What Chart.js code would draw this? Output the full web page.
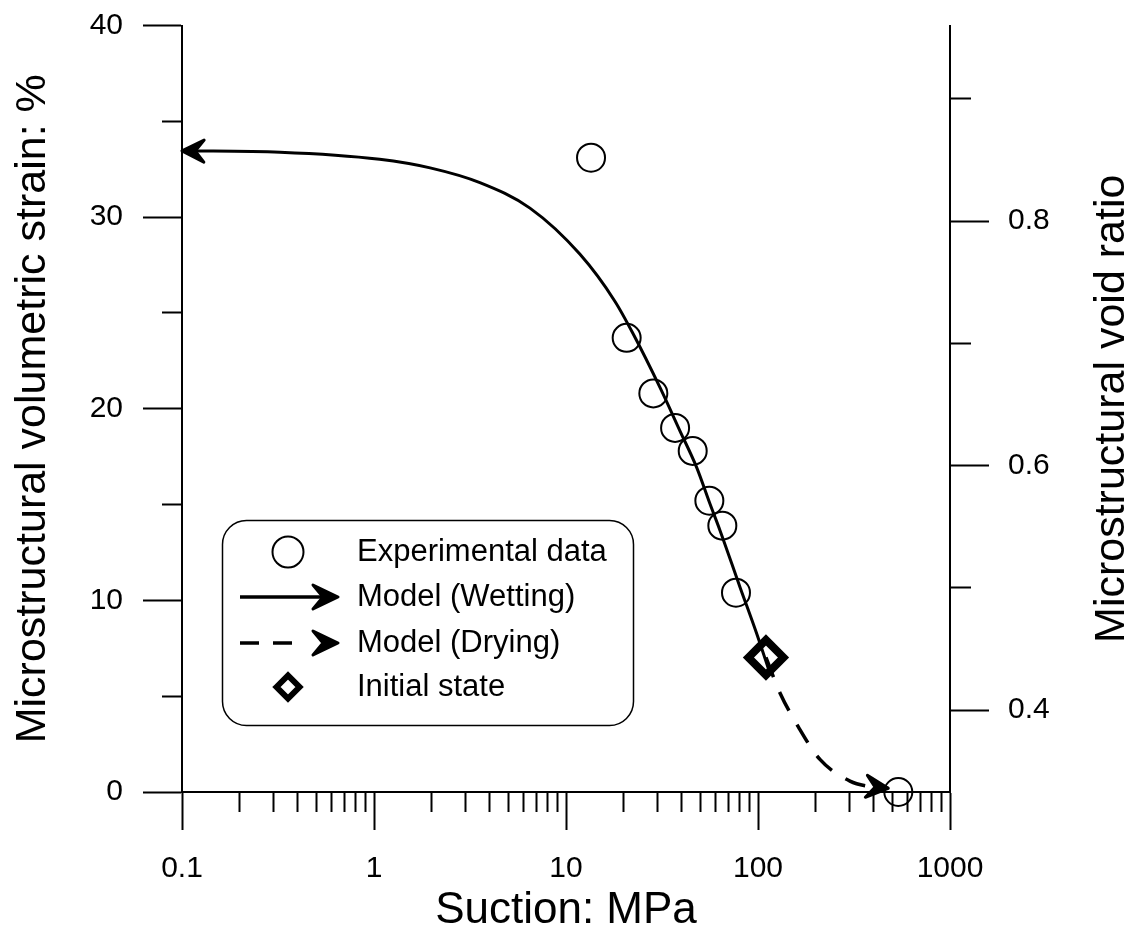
<!DOCTYPE html>
<html>
<head>
<meta charset="utf-8">
<script src="https://cdn.jsdelivr.net/npm/chart.js@4.4.1/dist/chart.umd.min.js"></script>
<style>
  html, body { margin: 0; padding: 0; background: #fff; }
  #wrap { width: 1135px; height: 933px; }
</style>
</head>
<body>
<div id="wrap"><canvas id="myChart"></canvas></div>
<script>
'use strict';

const FONT = "'Liberation Sans', Arial, sans-serif";

// experimental points: suction (MPa) and microstructural volumetric strain (%)
const expSuction = [13.5, 20.7, 28.5, 37.0, 45.7, 55.8, 65.2, 76.8, 538];
const expStrain = [33.1, 23.7, 20.8, 19.0, 17.8, 15.2, 13.9, 10.4, 0];

// model, wetting path (arrow points to low suction)
const wetSuction = [0.1, 0.324, 1.07, 1.96, 3.56, 6.49, 11.8, 18.0, 22.4, 30.9, 39.2, 47.9, 56.2, 63.4, 80.6, 98.4, 115.5];
const wetStrain = [33.46, 33.39, 33.02, 32.57, 31.8, 30.47, 28.07, 25.6, 23.9, 21.1, 18.85, 16.94, 15.04, 13.65, 10.69, 8.27, 6.18];

// model, drying path
const drySuction = [110, 130.2, 162.2, 210.2, 301.4, 383, 477];
const dryStrain = [7.02, 5.17, 3.40, 1.70, 0.57, 0.28, 0.19];

// initial state
const initSuction = [110];
const initStrain = [7.02];

// axes
const xDecades = [0.1, 1, 10, 100, 1000];
const xDecadeLabels = ['0.1', '1', '10', '100', '1000'];
const yTickValues = [0, 5, 10, 15, 20, 25, 30, 35, 40];
const yLabelValues = [0, 10, 20, 30, 40];
const y2TickValues = [0.4, 0.5, 0.6, 0.7, 0.8, 0.9];
const y2LabelValues = [0.4, 0.6, 0.8];
const y2Min = 0.333;
const y2Max = 0.96;

const xTitle = 'Suction: MPa';
const yTitle = 'Microstructural volumetric strain: %';
const y2Title = 'Microstructural void ratio';

function toPoints(xs, ys) {
  return xs.map((x, i) => ({ x: x, y: ys[i] }));
}

// log ticks: 1..9 in every decade, majors on the decades
let xTicks = [];
for (let j = 0; j < xDecades.length; j++) {
  if (j === xDecades.length - 1) {
    xTicks.push({ value: xDecades[j], major: true, dec: j });
  } else {
    for (let m = 1; m <= 9; m++) {
      xTicks.push({ value: m * xDecades[j], major: m === 1, dec: j });
    }
  }
}

function drawArrow(ctx, x, y, angle, len, half) {
  ctx.save();
  ctx.translate(x, y);
  ctx.rotate(angle);
  ctx.beginPath();
  ctx.moveTo(0, 0);
  ctx.lineTo(-len, -half);
  ctx.lineTo(-len * 0.6, 0);
  ctx.lineTo(-len, half);
  ctx.closePath();
  ctx.fillStyle = '#000';
  ctx.strokeStyle = '#000';
  ctx.lineWidth = 3;
  ctx.lineJoin = 'round';
  ctx.fill();
  ctx.stroke();
  ctx.restore();
}

function drawDiamond(ctx, x, y, r, lw) {
  ctx.save();
  ctx.beginPath();
  ctx.moveTo(x - r, y);
  ctx.lineTo(x, y - r);
  ctx.lineTo(x + r, y);
  ctx.lineTo(x, y + r);
  ctx.closePath();
  ctx.lineWidth = lw;
  ctx.strokeStyle = '#000';
  ctx.stroke();
  ctx.restore();
}

const arrowPlugin = {
  id: 'arrows',
  afterDatasetsDraw(chart) {
    const ctx = chart.ctx;
    chart.data.datasets.forEach((ds, i) => {
      if (!ds.arrowAt) return;
      const pts = chart.getDatasetMeta(i).data;
      let a, b;
      if (ds.arrowAt === 'start') {
        a = pts[1]; b = pts[0];
      } else {
        a = pts[pts.length - 2]; b = pts[pts.length - 1];
      }
      drawArrow(ctx, b.x, b.y, Math.atan2(b.y - a.y, b.x - a.x), 22, 11);
    });
  }
};

const legendPlugin = {
  id: 'legendBox',
  afterDraw(chart) {
    const ctx = chart.ctx;
    const ds = chart.data.datasets;
    const rows = [552, 597, 643, 687];
    const sx = 288;
    ctx.save();
    ctx.strokeStyle = '#000';
    ctx.lineWidth = 1.5;
    ctx.beginPath();
    ctx.roundRect(222.5, 520.5, 411, 205, 24);
    ctx.stroke();

    // circle
    ctx.lineWidth = 2;
    ctx.beginPath();
    ctx.arc(sx, rows[0], 15.5, 0, Math.PI * 2);
    ctx.stroke();

    // solid arrow
    ctx.lineWidth = 3.5;
    ctx.beginPath();
    ctx.moveTo(240, rows[1]);
    ctx.lineTo(330, rows[1]);
    ctx.stroke();
    drawArrow(ctx, 338, rows[1], 0, 25, 12);

    // dashed arrow
    ctx.setLineDash([19, 14]);
    ctx.beginPath();
    ctx.moveTo(240, rows[2]);
    ctx.lineTo(300, rows[2]);
    ctx.stroke();
    ctx.setLineDash([]);
    drawArrow(ctx, 338, rows[2], 0, 25, 12);

    // diamond
    drawDiamond(ctx, sx, rows[3], 11.5, 6);

    ctx.fillStyle = '#000';
    ctx.font = '31px ' + FONT;
    ctx.textBaseline = 'middle';
    ctx.textAlign = 'left';
    for (let i = 0; i < ds.length; i++) {
      ctx.fillText(ds[i].label, 357, rows[i]);
    }

    // right axis title, reading bottom to top
    const area = chart.chartArea;
    ctx.translate(1112, (area.top + area.bottom) / 2);
    ctx.rotate(-Math.PI / 2);
    ctx.font = '43px ' + FONT;
    ctx.textAlign = 'center';
    ctx.fillText(y2Title, 0, 0);
    ctx.restore();
  }
};

const data = {
  datasets: [
    {
      label: 'Experimental data',
      data: toPoints(expSuction, expStrain),
      showLine: false,
      pointStyle: 'circle',
      pointRadius: 14,
      pointBorderWidth: 2,
      borderColor: '#000',
      backgroundColor: 'rgba(0,0,0,0)',
      clip: false
    },
    {
      label: 'Model (Wetting)',
      data: toPoints(wetSuction, wetStrain),
      showLine: true,
      borderColor: '#000',
      borderWidth: 3,
      pointRadius: 0,
      cubicInterpolationMode: 'monotone',
      arrowAt: 'start',
      clip: false
    },
    {
      label: 'Model (Drying)',
      data: toPoints(drySuction, dryStrain),
      showLine: true,
      borderColor: '#000',
      borderWidth: 3.5,
      borderDash: [21, 16],
      pointRadius: 0,
      cubicInterpolationMode: 'monotone',
      arrowAt: 'end',
      clip: false
    },
    {
      label: 'Initial state',
      data: toPoints(initSuction, initStrain),
      showLine: false,
      pointStyle: 'rectRot',
      pointRadius: 17.5,
      pointBorderWidth: 8,
      borderColor: '#000',
      backgroundColor: 'rgba(0,0,0,0)',
      clip: false
    }
  ]
};

const tickFont = { size: 30, family: FONT };

function noEdgePadding(s) {
  s.paddingTop = 0;
  s.paddingBottom = 0;
  s.paddingLeft = 0;
  s.paddingRight = 0;
}

const config = {
  type: 'scatter',
  data: data,
  options: {
    responsive: true,
    maintainAspectRatio: false,
    animation: false,
    events: [],
    layout: { padding: { top: 24, left: 0, right: 0, bottom: 0 } },
    plugins: {
      legend: { display: false },
      tooltip: { enabled: false }
    },
    scales: {
      x: {
        type: 'logarithmic',
        position: 'bottom',
        min: 0.1,
        max: 1000,
        afterBuildTicks: (s) => { s.ticks = xTicks.map(t => Object.assign({}, t)); },
        afterFit: (s) => { s.height = 141; noEdgePadding(s); },
        ticks: {
          autoSkip: false,
          maxRotation: 0,
          padding: 21,
          color: '#000',
          font: tickFont,
          callback: (v, i, t) => (t[i].major ? xDecadeLabels[t[i].dec] : '')
        },
        grid: {
          drawOnChartArea: false,
          tickLength: 38,
          tickWidth: 2,
          tickColor: '#000',
          tickBorderDash: (c) => (c.tick && c.tick.major ? [] : [19, 100])
        },
        border: { color: '#000', width: 2 },
        title: {
          display: true,
          text: xTitle,
          color: '#000',
          font: { size: 44, family: FONT, lineHeight: 1 },
          padding: { top: 0, bottom: 0 }
        }
      },
      y: {
        type: 'linear',
        position: 'left',
        min: 0,
        max: 40,
        afterBuildTicks: (s) => { s.ticks = yTickValues.map(v => ({ value: v, major: yLabelValues.includes(v) })); },
        afterFit: (s) => { s.width = 182; noEdgePadding(s); },
        ticks: {
          autoSkip: false,
          padding: 20,
          color: '#000',
          font: tickFont,
          callback: (v) => (yLabelValues.includes(v) ? String(v) : '')
        },
        grid: {
          drawOnChartArea: false,
          tickLength: 39,
          tickWidth: 2,
          tickColor: '#000',
          tickBorderDash: (c) => (c.tick && c.tick.major ? [] : [0, 19, 20, 100])
        },
        border: { color: '#000', width: 2 },
        title: {
          display: true,
          text: yTitle,
          color: '#000',
          font: { size: 43, family: FONT, lineHeight: 1 },
          padding: { top: 12, bottom: 0 }
        }
      },
      y2: {
        type: 'linear',
        position: 'right',
        min: y2Min,
        max: y2Max,
        afterBuildTicks: (s) => { s.ticks = y2TickValues.map(v => ({ value: v, major: y2LabelValues.includes(v) })); },
        afterFit: (s) => { s.width = 185; noEdgePadding(s); },
        ticks: {
          autoSkip: false,
          padding: 19,
          color: '#000',
          font: tickFont,
          callback: (v) => (y2LabelValues.includes(v) ? v.toFixed(1) : '')
        },
        grid: {
          drawOnChartArea: false,
          tickLength: 39,
          tickWidth: 2,
          tickColor: '#000',
          tickBorderDash: (c) => (c.tick && c.tick.major ? [] : [20, 100])
        },
        border: { color: '#000', width: 2 }
      }
    }
  },
  plugins: [arrowPlugin, legendPlugin]
};

let myChart = new Chart(document.getElementById('myChart'), config);
</script>
</body>
</html>
